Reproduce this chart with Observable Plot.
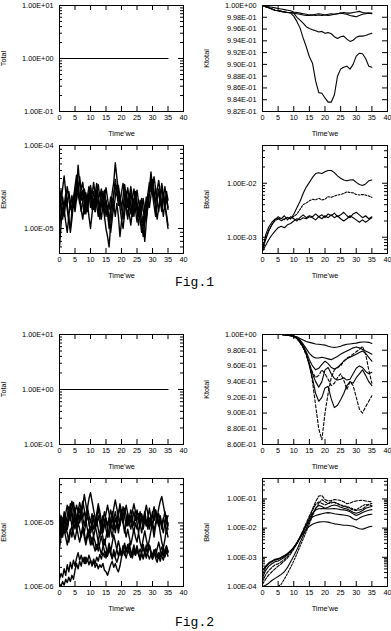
<!DOCTYPE html>
<html><head><meta charset="utf-8">
<script src="https://cdn.jsdelivr.net/npm/d3@7"></script>
<script src="https://cdn.jsdelivr.net/npm/@observablehq/plot@0.6"></script>
<style>
html,body{margin:0;padding:0;background:#fff;}
#fig{position:relative;width:391px;height:631px;overflow:hidden;background:#fff;}
.panel{position:absolute;}
.panel svg{overflow:visible;display:block;}
.figlabel{position:absolute;font-family:"Liberation Mono","DejaVu Sans Mono",monospace;font-size:13px;line-height:13px;color:#000;white-space:pre;}
</style></head>
<body><div id="fig"></div>
<script>
// ---------- tick values ----------
const xTicks = [0, 5, 10, 15, 20, 25, 30, 35, 40];
const totalTicks = [0.1, 1, 10];
const kFig1Ticks = [0.982, 0.984, 0.986, 0.988, 0.990, 0.992, 0.994, 0.996, 0.998, 1.000];
const eFig1Ticks = [1e-5, 1e-4];
const bFig1Ticks = [1e-3, 1e-2];
const kFig2Ticks = [0.86, 0.88, 0.90, 0.92, 0.94, 0.96, 0.98, 1.00];
const eFig2Ticks = [1e-6, 1e-5];
const bFig2Ticks = [1e-4, 1e-3, 1e-2, 1e-1];

// ---------- time grids ----------
const tTotal = [0, 35];
const tStep1 = d3.range(0, 36);          // 0..35 step 1
const tHalf = d3.range(0, 71).map(i => i / 2); // 0..35 step 0.5

// ---------- Fig.1 ----------
const totalFig1 = [1.0, 1.0];

const kFig1A = [1.0000,0.9998,0.9996,0.9994,0.9992,0.9991,0.9990,0.9989,0.9988,0.9988,
  0.9987,0.9986,0.9985,0.9984,0.9983,0.9983,0.9984,0.9983,0.9984,0.9983,
  0.9984,0.9985,0.9986,0.9985,0.9986,0.9987,0.9986,0.9985,0.9983,0.9982,
  0.9981,0.9983,0.9985,0.9986,0.9987,0.9987];
const kFig1B = [1.0000,0.9999,0.9998,0.9997,0.9996,0.9995,0.9994,0.9993,0.9992,0.9991,
  0.9989,0.9988,0.9987,0.9986,0.9985,0.9984,0.9984,0.9985,0.9986,0.9985,
  0.9984,0.9983,0.9984,0.9985,0.9986,0.9987,0.9988,0.9987,0.9987,0.9988,
  0.9989,0.9990,0.9988,0.9987,0.9987,0.9986];
const kFig1C = [1.0000,0.9998,0.9996,0.9994,0.9992,0.9991,0.9990,0.9989,0.9988,0.9988,
  0.9987,0.9980,0.9975,0.9970,0.9964,0.9961,0.9959,0.9957,0.9955,0.9956,
  0.9953,0.9954,0.9952,0.9947,0.9944,0.9947,0.9948,0.9943,0.9939,0.9941,
  0.9946,0.9948,0.9948,0.9949,0.9951,0.9953];
const kFig1D = [1.0000,0.9998,0.9996,0.9994,0.9992,0.9991,0.9990,0.9989,0.9988,0.9987,
  0.9982,0.9973,0.9962,0.9945,0.9930,0.9913,0.9902,0.9872,0.9852,0.9851,
  0.9843,0.9836,0.9836,0.9848,0.9880,0.9892,0.9895,0.9897,0.9892,0.9900,
  0.9914,0.9919,0.9918,0.9910,0.9897,0.9895];

// Etotal Fig.1, units of 1e-5, step 0.5
const eFig1S1 = [0.6,1.1,1.8,1.4,2.3,1.7,1.2,1.0,1.6,2.4,
  1.9,2.8,5.8,3.4,2.2,2.9,2.0,1.5,2.1,2.7,
  1.8,2.4,1.7,2.6,3.5,2.5,1.8,1.3,1.9,1.4,
  1.0,0.8,0.6,1.1,1.7,2.6,3.9,2.7,1.9,2.5,
  1.8,1.3,1.9,2.8,2.1,1.5,1.1,1.6,2.3,1.7,
  1.2,1.8,1.3,0.9,1.4,0.7,1.2,2.0,2.9,4.8,
  3.2,2.3,3.0,2.1,1.6,2.4,1.8,2.7,2.0,1.5,
  1.1];
const eFig1S2 = [1.5,2.2,3.0,4.3,2.8,1.9,1.4,0.9,1.3,2.0,
  2.9,2.2,3.1,4.2,2.9,3.6,2.5,1.8,2.4,3.2,
  2.4,1.7,2.3,1.6,2.5,3.4,2.4,3.0,2.1,1.5,
  2.2,1.6,1.2,1.8,2.7,3.6,6.2,4.1,2.8,2.0,
  2.7,3.5,2.5,1.8,1.3,1.9,2.7,2.0,1.4,2.1,
  2.9,2.1,1.6,2.3,1.7,1.2,1.8,2.6,3.6,2.8,
  3.9,2.8,2.0,2.9,3.8,2.7,2.0,1.4,2.0,2.8,
  2.2];
const eFig1S3 = [2.5,1.8,1.3,1.9,2.6,2.0,2.8,2.1,1.6,2.3,
  3.2,4.4,3.0,2.2,1.6,2.2,3.0,2.3,1.7,2.4,
  3.3,2.5,3.6,2.6,1.9,1.4,2.0,2.8,2.1,2.9,
  2.1,1.5,1.0,1.5,2.3,1.7,2.4,3.3,2.4,1.8,
  1.3,1.0,1.5,2.2,3.1,2.3,3.2,2.4,1.8,2.6,
  1.9,1.4,2.0,1.5,1.1,1.6,2.4,1.8,2.6,3.7,
  2.6,1.9,1.4,2.1,3.0,2.2,3.1,2.3,1.7,2.4,
  1.8];
const eFig1S4 = [1.0,1.6,2.4,1.7,1.2,0.9,1.4,2.1,1.5,2.2,
  1.6,2.3,3.3,2.4,1.7,1.3,1.9,2.7,2.0,1.4,
  1.0,1.5,2.2,1.6,2.4,1.8,1.3,1.9,2.8,2.0,
  1.4,1.9,1.3,0.9,1.3,1.9,1.4,2.0,1.4,0.8,
  1.2,1.8,2.6,1.9,1.4,2.0,1.5,2.2,3.0,2.2,
  1.6,1.1,1.6,1.2,0.8,1.2,1.7,2.4,1.8,2.5,
  3.4,2.5,1.8,1.3,1.8,2.5,3.5,2.6,1.9,1.4,
  1.0];
const eFig1S5 = [2.0,2.9,2.1,1.5,2.2,3.2,2.3,1.7,2.5,1.8,
  2.6,3.7,2.7,2.0,2.8,2.1,1.5,2.2,1.6,2.3,
  2.9,2.1,2.8,2.0,2.9,2.2,1.6,2.3,1.7,2.4,
  3.1,2.3,1.7,2.4,1.8,2.5,3.4,2.5,3.3,2.4,
  1.7,2.4,3.4,2.5,1.8,2.6,1.9,1.4,2.0,2.8,
  2.1,1.5,2.2,1.6,2.3,1.7,1.3,1.8,2.7,3.9,
  3.0,4.2,3.0,2.2,2.9,2.1,1.6,2.3,3.2,2.4,
  1.7];

// Btotal Fig.1, units of 1e-3, step 1
const bFig1A = [0.56,1.1,1.55,1.9,2.17,2.23,2.03,2.17,2.33,2.17,2.67,3.5,4.6,6.47,8.49,10.4,12.8,15.1,15.7,15.1,16.3,17.2,17.2,15.7,13.7,12.4,11.5,11.1,11.5,11.6,10.4,9.46,9.1,9.73,11.1,11.5];
const bFig1B = [0.64,0.96,1.35,1.70,2.03,2.17,2.23,2.11,2.33,2.23,2.43,2.67,3.27,4.02,4.30,4.73,5.06,4.92,5.27,4.92,5.06,5.64,5.49,5.80,6.04,6.21,6.47,6.92,6.73,6.64,6.21,6.04,6.21,6.04,5.80,5.49];
const bFig1C = [0.6,0.9,1.3,1.7,2.1,2.4,2.2,2.5,2.1,2.4,2.2,2.0,2.3,2.6,2.3,2.5,2.4,2.7,2.4,2.6,2.3,2.7,2.5,2.8,2.4,2.6,2.9,2.5,2.3,2.7,2.9,2.6,2.3,2.5,2.2,2.4];
const bFig1D = [0.55,0.7,0.9,1.1,1.3,1.5,1.6,1.5,1.7,1.8,2.0,2.2,2.1,2.3,2.2,2.4,2.3,2.1,2.4,2.2,2.5,2.3,2.6,2.3,2.5,2.2,2.0,2.2,2.5,2.3,2.1,1.9,2.1,1.9,2.1,2.3];

// ---------- Fig.2 ----------
const totalFig2 = [1.0, 1.0];

const kFig2A = [1,1,1,1,1,1,1,0.9998,0.9995,0.999, 0.998,0.997,0.995,0.993,0.991, 0.990,0.989,0.988,0.9875,0.987, 0.9865,0.985,0.984,0.9835,0.984, 0.985,0.9865,0.9875,0.988,0.9885, 0.989,0.990,0.9905,0.9905,0.990, 0.9885];
const kFig2B = [1,1,1,1,1,1,1,0.9998,0.9994,0.9988, 0.998,0.996,0.993,0.988,0.982, 0.976,0.972,0.970,0.970,0.971, 0.970,0.969,0.968,0.970,0.972, 0.975,0.977,0.979,0.981,0.983, 0.984,0.983,0.981,0.979,0.977, 0.975];
const kFig2C = [1,1,1,1,1,1,1,0.9997,0.9993,0.9987, 0.998,0.996,0.992,0.986,0.978, 0.968,0.960,0.955,0.957,0.962, 0.966,0.963,0.958,0.956,0.958, 0.962,0.966,0.969,0.971,0.973, 0.975,0.977,0.979,0.976,0.971, 0.966];
const kFig2D = [1,1,1,1,1,1,1,0.9997,0.9992,0.9985, 0.998,0.995,0.991,0.985,0.976, 0.963,0.950,0.940,0.933,0.940, 0.955,0.958,0.950,0.944,0.942, 0.943,0.945,0.942,0.943,0.950, 0.957,0.960,0.958,0.953,0.950, 0.952];
const kFig2E = [1,1,1,1,1,1,1,0.9997,0.9992,0.9985, 0.997,0.995,0.990,0.984,0.975, 0.960,0.944,0.925,0.915,0.920, 0.932,0.934,0.918,0.907,0.910, 0.917,0.925,0.935,0.940,0.938, 0.945,0.950,0.955,0.948,0.940, 0.935];
const kFig2F = [1,1,1,1,1,1,1,0.9997,0.9992,0.9985, 0.997,0.995,0.990,0.984,0.975, 0.962,0.940,0.910,0.880,0.866, 0.900,0.925,0.945,0.955,0.958, 0.960,0.966,0.970,0.972,0.975, 0.978,0.981,0.985,0.975,0.955, 0.938];
const kFig2G = [1,1,1,1,1,1,1,0.9997,0.9992,0.9985, 0.997,0.995,0.990,0.983,0.974, 0.962,0.952,0.945,0.948,0.955, 0.950,0.943,0.935,0.938,0.945, 0.950,0.942,0.930,0.940,0.935, 0.920,0.905,0.900,0.908,0.915, 0.922];

// Etotal Fig.2, units of 1e-6, step 0.5
const eFig2U1 = [9,13,10,15,11,8,12,17,13,10,
  14,19,15,11,16,22,16,12,17,24,
  30,22,16,12,9,13,10,7,11,15,
  11,8,12,16,12,17,23,17,12,9,
  13,10,14,19,14,10,8,11,15,11,
  16,12,9,13,10,14,19,14,10,13,
  9,12,16,12,17,22,26,19,14,10,
  8];
const eFig2U2 = [14,10,7,10,14,19,14,20,15,11,
  8,11,15,21,16,12,9,13,18,13,
  10,14,11,8,12,17,12,9,13,10,
  14,19,14,10,8,11,15,11,8,12,
  16,12,17,13,9,12,16,12,9,13,
  10,7,10,14,11,15,11,8,12,9,
  13,18,13,10,14,11,8,11,15,11,
  13];
const eFig2U3 = [6,9,12,9,7,10,14,11,16,21,
  15,11,14,10,13,9,7,10,13,10,
  7,10,13,9,7,5,7,10,7,9,
  12,9,12,8,6,9,12,9,13,18,
  13,10,7,10,14,10,13,9,7,10,
  8,11,15,11,8,11,9,12,17,12,
  9,6,9,12,9,13,9,12,10,7,
  10];
const eFig2U4 = [11,8,11,7,10,13,18,13,9,12,
  17,12,9,12,16,12,15,11,8,6,
  8,11,8,10,14,20,15,11,8,11,
  8,6,8,11,15,11,8,10,7,10,
  13,18,13,9,12,9,11,15,20,15,
  11,14,10,7,10,13,9,12,8,11,
  15,11,16,12,9,12,9,7,10,13,
  9];
const eFig2U5 = [4,6,9,7,10,8,11,16,22,16,
  12,9,12,17,13,18,28,20,14,10,
  7,9,6,8,11,8,6,8,6,4.5,
  6,8,6,9,12,9,7,10,14,20,
  15,11,8,6,8,6,4.5,6,8,6,
  5,7,5,4,5.5,7.5,5.5,4.2,5.5,7.5,
  10,7.5,10,14,10,7,5,4,5.5,8,
  6];
const eFig2M1 = [8,6,9,12,9,7,5,7,9,7,
  5.5,7.5,10,8,6,8,6,4.5,6,8,
  6,4.5,6,5,3.8,5,4,3.2,4.2,5.5,
  4.2,3.2,4.5,3.5,4.8,6.5,5,3.8,3,4,
  3.2,4.4,3.4,2.8,3.6,4.8,3.6,2.8,3.8,3.1,
  4.2,3.2,2.7,3.6,4.6,3.5,2.8,3.5,4.4,3.4,
  2.8,3.6,3,3.9,5,3.8,3,2.6,3.4,4.2,
  3.5];
const eFig2M2 = [12,9,6,8,6,4.5,6,8,6,9,
  12,9,6.5,5,6.5,9,7,5,7,6,
  4.5,6,4.5,3.6,4.6,3.6,4.8,6.2,4.6,3.6,
  2.8,3.6,4.8,3.6,2.8,3.8,3,3.9,5.2,4,
  3,3.8,4.8,3.6,4.6,3.4,2.9,3.6,4.5,3.4,
  4.4,3.3,2.6,3.3,2.7,3.5,4.5,3.4,4.4,3.3,
  2.7,3.4,2.8,2.4,3.1,2.5,3.2,4.1,3.2,4,
  3.4];
const eFig2L1 = [1.3,1.6,1.4,1.9,1.5,2.2,1.7,2.4,1.9,2.6,
  2.1,2.8,3.4,2.6,3.1,2.5,2.9,2.3,2.7,2.2,
  2.6,2.1,2.5,2.0,2.3,1.9,2.2,2.0,2.3,1.8,
  1.7,1.5,1.8,2.2,2.5,2.0,2.3,1.9,1.7,2.1,
  2.9,3.6,3.1,3.8,3.3,4.2,3.5,3.0,3.6,3.1,
  3.7,3.2,3.9,3.3,2.8,3.4,3.0,3.7,4.5,3.6,
  3.1,3.8,3.2,2.8,3.4,2.9,3.5,3.0,3.7,4.4,
  3.6];
const eFig2L2 = [1.1,1.0,1.2,1.05,1.3,1.15,1.4,1.2,1.5,1.3,
  1.8,2.3,1.9,2.5,2.1,2.8,2.3,2.9,2.5,3.1,
  2.6,2.2,2.7,2.3,2.9,2.5,3.2,2.7,3.4,2.9,
  3.6,3.0,3.8,3.2,2.7,3.3,2.8,2.4,2.9,3.5,
  3.0,3.7,4.4,3.6,4.3,3.5,2.9,3.5,4.1,3.4,
  4.0,3.3,2.8,3.4,4.0,3.3,3.9,3.2,2.7,3.2,
  2.7,3.3,3.9,3.2,2.8,3.5,4.2,3.4,2.9,3.6,
  3.0];

// Btotal Fig.2, units of 1e-3, step 1
const bFig2A = [0.35,0.5,0.65,0.75,0.85,0.9,1.0,1.15,1.35,1.7,2.2,3.0,4.5,6.5,9.0,11.5,13.5,15.0,16.0,16.5,16.5,16.0,15.0,14.0,13.5,13.0,12.5,12.5,12.0,11.5,10.5,9.5,9.2,10.0,11.0,11.5];
const bFig2B = [0.25,0.45,0.6,0.7,0.8,0.85,0.95,1.1,1.3,1.6,2.1,3.0,4.8,7.5,12,18,24,27,29,31,33,34,33,31,30,29,28,27,25,21,19,22,25,27,29,30];
const bFig2C = [0.2,0.35,0.5,0.6,0.7,0.75,0.85,1.0,1.25,1.6,2.2,3.2,5.0,8.0,13,21,32,42,46,47,46,45,46,47,45,43,42,40,36,31,27,30,34,38,41,43];
const bFig2D = [0.15,0.25,0.35,0.45,0.55,0.6,0.7,0.85,1.1,1.5,2.1,3.1,5.0,8.5,15,26,45,80,125,130,95,85,88,95,92,88,80,68,72,80,85,88,90,85,82,80];
const bFig2E = [0.12,0.18,0.25,0.32,0.4,0.5,0.6,0.75,0.95,1.3,1.9,2.9,4.6,7.5,13,23,40,65,78,70,62,70,80,75,68,60,55,52,47,42,40,42,45,55,65,70];
const bFig2F = [0.1,0.11,0.13,0.16,0.19,0.22,0.26,0.32,0.45,0.7,1.1,1.8,3.2,5.5,9.5,17,30,48,60,55,48,52,58,62,58,52,48,45,40,35,32,35,40,48,52,55];
const bFig2G = [null,null,null,null,null,0.1,0.12,0.18,0.28,0.45,0.75,1.3,2.4,4.2,7.5,14,26,45,70,95,80,70,72,78,70,62,58,55,50,45,42,50,58,65,62,58];

// ---------- helpers ----------
function fmtE(d) {
  let e = Math.floor(Math.log10(d) + 1e-9);
  let m = d / Math.pow(10, e);
  if (m >= 9.995) { m /= 10; e += 1; }
  return m.toFixed(2) + "E" + (e < 0 ? "-" : "+") + String(Math.abs(e)).padStart(2, "0");
}
function minorLog(domain) {
  const out = [];
  const e0 = Math.floor(Math.log10(domain[0])), e1 = Math.ceil(Math.log10(domain[1]));
  for (let e = e0; e <= e1; e++) for (let m = 2; m <= 9; m++) {
    const v = m * Math.pow(10, e);
    if (v > domain[0] * 1.001 && v < domain[1] * 0.999) out.push(v);
  }
  return out;
}
function rows(series) {
  return series.flatMap(s => s.values.map((v, i) => ({t: s.times[i], v: v == null ? null : v * s.unit, s: s.name})));
}

const panels = [
  {col: 0, top: 5, bottom: 111, type: "log", domain: [0.1, 10], ticks: totalTicks, label: "Total", sw: 1.1,
   series: [{name: "T", times: tTotal, values: totalFig1, unit: 1}]},
  {col: 1, top: 5, bottom: 111, type: "linear", domain: [0.982, 1.0], ticks: kFig1Ticks, label: "Ktotal", sw: 1.1,
   series: [{name: "A", times: tStep1, values: kFig1A, unit: 1}, {name: "B", times: tStep1, values: kFig1B, unit: 1},
            {name: "C", times: tStep1, values: kFig1C, unit: 1}, {name: "D", times: tStep1, values: kFig1D, unit: 1}]},
  {col: 0, top: 145, bottom: 253, type: "log", domain: [5e-6, 1e-4], ticks: eFig1Ticks, label: "Etotal", sw: 1.4,
   series: [eFig1S1, eFig1S2, eFig1S3, eFig1S4, eFig1S5].map((v, i) => ({name: "E" + i, times: tHalf, values: v, unit: 1e-5}))},
  {col: 1, top: 145, bottom: 253, type: "log", domain: [5e-4, 5e-2], ticks: bFig1Ticks, label: "Btotal", sw: 1.1,
   series: [{name: "A", times: tStep1, values: bFig1A, unit: 1e-3}, {name: "B", times: tStep1, values: bFig1B, unit: 1e-3, dash: "2,1.5"},
            {name: "C", times: tStep1, values: bFig1C, unit: 1e-3}, {name: "D", times: tStep1, values: bFig1D, unit: 1e-3}]},
  {col: 0, top: 334, bottom: 444, type: "log", domain: [0.1, 10], ticks: totalTicks, label: "Total", sw: 1.1,
   series: [{name: "T", times: tTotal, values: totalFig2, unit: 1}]},
  {col: 1, top: 334, bottom: 444, type: "linear", domain: [0.86, 1.0], ticks: kFig2Ticks, label: "Ktotal", sw: 1.1,
   series: [{name: "A", values: kFig2A}, {name: "B", values: kFig2B}, {name: "C", values: kFig2C},
            {name: "D", values: kFig2D}, {name: "E", values: kFig2E}, {name: "F", values: kFig2F, dash: "3,2"},
            {name: "G", values: kFig2G, dash: "3,2"}].map(s => ({...s, times: tStep1, unit: 1}))},
  {col: 0, top: 478, bottom: 586, type: "log", domain: [1e-6, 5e-5], ticks: eFig2Ticks, label: "Etotal", sw: 1.4,
   series: [eFig2U1, eFig2U2, eFig2U3, eFig2U4, eFig2U5, eFig2M1, eFig2M2, eFig2L1, eFig2L2].map((v, i) => ({name: "E" + i, times: tHalf, values: v, unit: 1e-6}))},
  {col: 1, top: 478, bottom: 586, type: "log", domain: [1e-4, 0.5], ticks: bFig2Ticks, label: "Btotal", sw: 1.1,
   series: [{name: "A", values: bFig2A}, {name: "B", values: bFig2B}, {name: "C", values: bFig2C},
            {name: "D", values: bFig2D, dash: "3,1.5"}, {name: "E", values: bFig2E, dash: "3,1.5"},
            {name: "F", values: bFig2F}, {name: "G", values: bFig2G, dash: "2,1.5"}].map(s => ({...s, times: tStep1, unit: 1e-3}))}
];

const fig = document.getElementById("fig");
const W = 195, MT = 8, MB = 28;
const colGeom = [{left: 0, ml: 59, mr: 12}, {left: 196, ml: 66, mr: 4}];

for (const p of panels) {
  const g = colGeom[p.col];
  const fh = p.bottom - p.top;
  const fw = W - g.ml - g.mr;
  const minor = p.type === "log" ? minorLog(p.domain) : [];
  const solid = p.series.filter(s => !s.dash);
  const dashed = p.series.filter(s => s.dash);
  const marks = [
    Plot.axisX(xTicks, {tickSize: 0, tickPadding: 3, label: "Time'we", labelAnchor: "center", labelOffset: 24, labelArrow: "none"}),
    Plot.axisY(p.ticks, {tickSize: 0, tickPadding: 6, tickFormat: fmtE, label: p.label, labelAnchor: "center", labelOffset: 59, labelArrow: "none"}),
    Plot.tickX(xTicks, {x: d => d, stroke: "black", insetTop: fh - 5}),
    Plot.tickX(xTicks, {x: d => d, stroke: "black", insetBottom: fh - 5}),
    Plot.tickY(p.ticks, {y: d => d, stroke: "black", insetRight: fw - 5}),
    Plot.tickY(p.ticks, {y: d => d, stroke: "black", insetLeft: fw - 5}),
    Plot.tickY(minor, {y: d => d, stroke: "black", insetRight: fw - 3}),
    Plot.tickY(minor, {y: d => d, stroke: "black", insetLeft: fw - 3}),
    Plot.line(rows(solid), {x: "t", y: "v", z: "s", stroke: "black", strokeWidth: p.sw, clip: true}),
    ...dashed.map(s => Plot.line(rows([s]), {x: "t", y: "v", stroke: "black", strokeWidth: p.sw, strokeDasharray: s.dash, clip: true})),
    Plot.frame({stroke: "black", strokeWidth: 1})
  ];
  const chart = Plot.plot({
    width: W, height: fh + MT + MB,
    marginLeft: g.ml, marginRight: g.mr, marginTop: MT, marginBottom: MB,
    style: {fontFamily: "'Liberation Sans', Arial, sans-serif", fontSize: "7.3px", background: "white", color: "black", overflow: "visible"},
    x: {domain: [0, 40]},
    y: {type: p.type, domain: p.domain},
    marks
  });
  const div = document.createElement("div");
  div.className = "panel";
  div.style.left = g.left + "px";
  div.style.top = (p.top - MT) + "px";
  div.appendChild(chart);
  fig.appendChild(div);
}

const figLabels = [{text: "Fig.1", left: 175, top: 276}, {text: "Fig.2", left: 175, top: 616}];
for (const f of figLabels) {
  const d = document.createElement("div");
  d.className = "figlabel";
  d.style.left = f.left + "px";
  d.style.top = f.top + "px";
  d.textContent = f.text;
  fig.appendChild(d);
}
</script></body></html>
